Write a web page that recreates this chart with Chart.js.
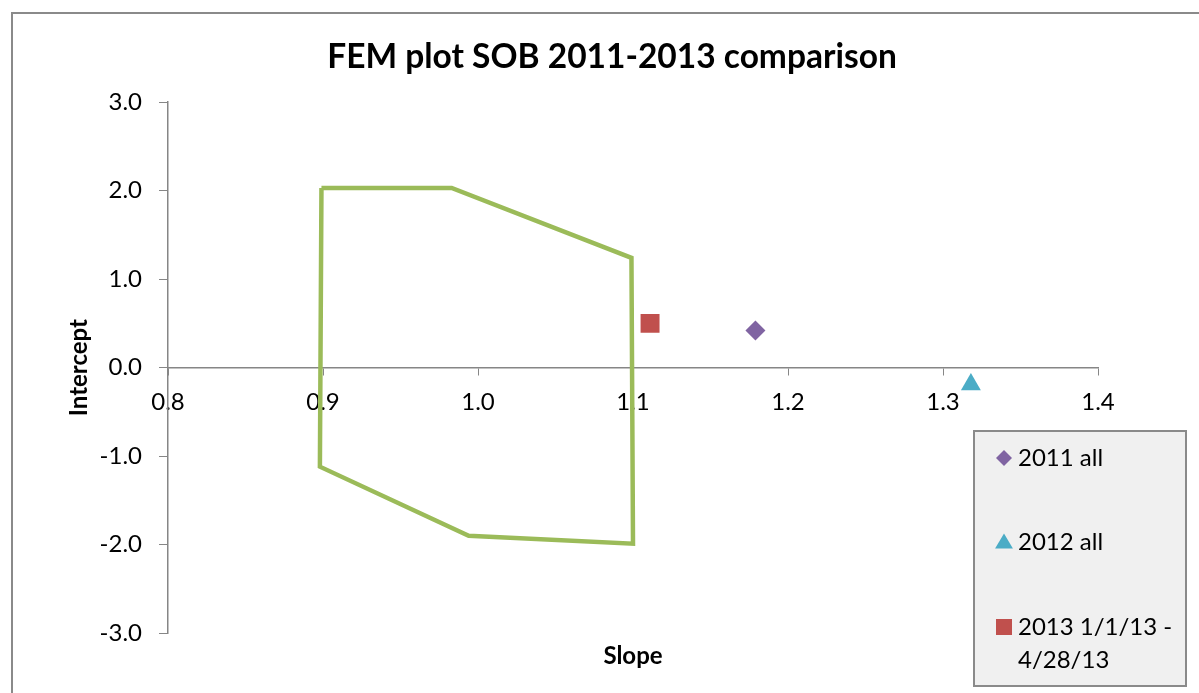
<!DOCTYPE html>
<html>
<head>
<meta charset="utf-8">
<script src="https://cdn.jsdelivr.net/npm/chart.js@4.4.1/dist/chart.umd.min.js"></script>
<style>
    html, body { margin: 0; padding: 0; background: #fff; overflow: hidden; }
    #frame {
        position: absolute;
        left: 11px;
        top: 12px;
        width: 1198px;
        height: 700px;
        border-left: 2px solid #8a8a8a;
        border-top: 2px solid #8a8a8a;
    }
</style>
</head>
<body>
<div id="frame"><canvas id="fem-chart" width="1198" height="700"></canvas></div>
<script>
// FEM acceptance polygon (slope, intercept), closed back to the first corner
const polySlope = [0.899, 0.983, 1.099, 1.100, 0.994, 0.898, 0.899];
const polyIntercept = [2.03, 2.03, 1.24, -1.99, -1.90, -1.12, 2.03];

// Single result points
const seriesNames = ['2011 all', '2012 all', '2013 1/1/13 - 4/28/13'];
const seriesSlope = [1.179, 1.318, 1.111];
const seriesIntercept = [0.42, -0.19, 0.50];
const seriesColors = ['#8064a2', '#4bacc6', '#c0504d'];
const seriesShapes = ['rectRot', 'triangle', 'rect'];
const seriesRadius = [10, 11.5, 13.4];

const xTicks = [0.8, 0.9, 1.0, 1.1, 1.2, 1.3, 1.4];
const yTicks = [-3, -2, -1, 0, 1, 2, 3];

const axisGray = '#868686';
const fontFamily = 'Lato, "Open Sans", sans-serif';

const datasets = [{
    label: 'FEM',
    data: polySlope.map((s, i) => ({ x: s, y: polyIntercept[i] })),
    showLine: true,
    borderColor: '#9bbb59',
    borderWidth: 4.5,
    pointRadius: 0,
    fill: false,
    tension: 0,
    borderJoinStyle: 'miter'
}];

seriesNames.forEach((name, i) => {
    datasets.push({
        label: name,
        data: [{ x: seriesSlope[i], y: seriesIntercept[i] }],
        pointStyle: seriesShapes[i],
        pointRadius: seriesRadius[i],
        pointBackgroundColor: seriesColors[i],
        pointBorderColor: seriesColors[i],
        pointBorderWidth: 0,
        showLine: false
    });
});

// little helper for the legend symbols
function drawSymbol(ctx, shape, x, y, size, color) {
    ctx.fillStyle = color;
    ctx.beginPath();
    if (shape === 'rectRot') {
        ctx.moveTo(x, y - size);
        ctx.lineTo(x + size, y);
        ctx.lineTo(x, y + size);
        ctx.lineTo(x - size, y);
    } else if (shape === 'triangle') {
        ctx.moveTo(x, y - size);
        ctx.lineTo(x + size * 1.05, y + size * 0.75);
        ctx.lineTo(x - size * 1.05, y + size * 0.75);
    } else {
        ctx.rect(x - size, y - size, size * 2, size * 2);
    }
    ctx.closePath();
    ctx.fill();
}

// Excel style legend box sitting over the lower right corner
const boxLegend = {
    id: 'boxLegend',
    afterDraw(chart) {
        const ctx = chart.ctx;
        const area = chart.chartArea;
        const left = area.right - 124;
        const top = area.bottom - 202;
        const width = 212;
        const height = 255;

        ctx.save();
        ctx.fillStyle = '#f0f0f0';
        ctx.fillRect(left, top, width, height);
        ctx.strokeStyle = '#8a8a8a';
        ctx.lineWidth = 2;
        ctx.strokeRect(left, top, width, height);

        ctx.font = '24px ' + fontFamily;
        ctx.textBaseline = 'middle';
        ctx.textAlign = 'left';
        const textX = left + 44;
        const maxWidth = width - 50;
        const rowY = [27, 111, 196];
        const symbolSize = [8, 8.5, 8];

        seriesNames.forEach((name, i) => {
            const y = top + rowY[i];
            drawSymbol(ctx, seriesShapes[i], left + 30, y, symbolSize[i], seriesColors[i]);

            // wrap long labels
            const words = name.split(' ');
            const lines = [];
            let line = '';
            words.forEach(w => {
                const test = line ? line + ' ' + w : w;
                if (ctx.measureText(test).width > maxWidth && line) {
                    lines.push(line);
                    line = w;
                } else {
                    line = test;
                }
            });
            lines.push(line);

            ctx.fillStyle = '#000';
            lines.forEach((l, k) => ctx.fillText(l, textX, y + k * 33));
        });
        ctx.restore();
    }
};

const ctx = document.getElementById('fem-chart').getContext('2d');
const chart = new Chart(ctx, {
    type: 'scatter',
    data: { datasets: datasets },
    plugins: [boxLegend],
    options: {
        responsive: false,
        animation: false,
        layout: { padding: 0 },
        plugins: {
            legend: { display: false },
            tooltip: { enabled: false },
            title: {
                display: true,
                text: 'FEM plot SOB 2011-2013 comparison',
                color: '#000',
                font: { family: fontFamily, size: 33.5, weight: 'bold', lineHeight: 1.2 },
                padding: { top: 23, bottom: 25 }
            }
        },
        scales: {
            x: {
                type: 'linear',
                position: { y: 0 },
                min: xTicks[0],
                max: xTicks[xTicks.length - 1],
                afterBuildTicks: scale => { scale.ticks = xTicks.map(v => ({ value: v })); },
                ticks: {
                    color: '#000',
                    font: { family: fontFamily, size: 24 },
                    padding: 13,
                    callback: v => Number(v).toFixed(1)
                },
                grid: { drawOnChartArea: false, drawTicks: true, tickLength: 7, color: axisGray },
                border: { display: true, color: axisGray, width: 1.5 }
            },
            xTitle: {
                type: 'linear',
                axis: 'x',
                position: 'bottom',
                min: xTicks[0],
                max: xTicks[xTicks.length - 1],
                ticks: { display: false },
                grid: { display: false },
                border: { display: false },
                afterFit: scale => { scale.height = 81; },
                title: {
                    display: true,
                    text: 'Slope',
                    color: '#000',
                    font: { family: fontFamily, size: 24, weight: 'bold', lineHeight: 1.2 },
                    padding: { top: 0, bottom: 43 }
                }
            },
            y: {
                type: 'linear',
                position: 'left',
                min: yTicks[0],
                max: yTicks[yTicks.length - 1],
                afterBuildTicks: scale => { scale.ticks = yTicks.map(v => ({ value: v })); },
                afterFit: scale => { scale.width = 155; },
                ticks: {
                    color: '#000',
                    font: { family: fontFamily, size: 24 },
                    padding: 17,
                    callback: v => Number(v).toFixed(1)
                },
                grid: { drawOnChartArea: false, drawTicks: true, tickLength: 9, color: axisGray },
                border: { display: true, color: axisGray, width: 1.5 },
                title: {
                    display: true,
                    text: 'Intercept',
                    color: '#000',
                    font: { family: fontFamily, size: 24, weight: 'bold', lineHeight: 1.2 },
                    padding: { top: 52, bottom: 0 }
                }
            },
            // empty right-hand scale, only keeps the space beside the plot
            ySpace: {
                type: 'linear',
                axis: 'y',
                position: 'right',
                min: yTicks[0],
                max: yTicks[yTicks.length - 1],
                ticks: { display: false },
                grid: { display: false },
                border: { display: false },
                afterFit: scale => { scale.width = 113; }
            }
        }
    }
});
</script>
</body>
</html>
